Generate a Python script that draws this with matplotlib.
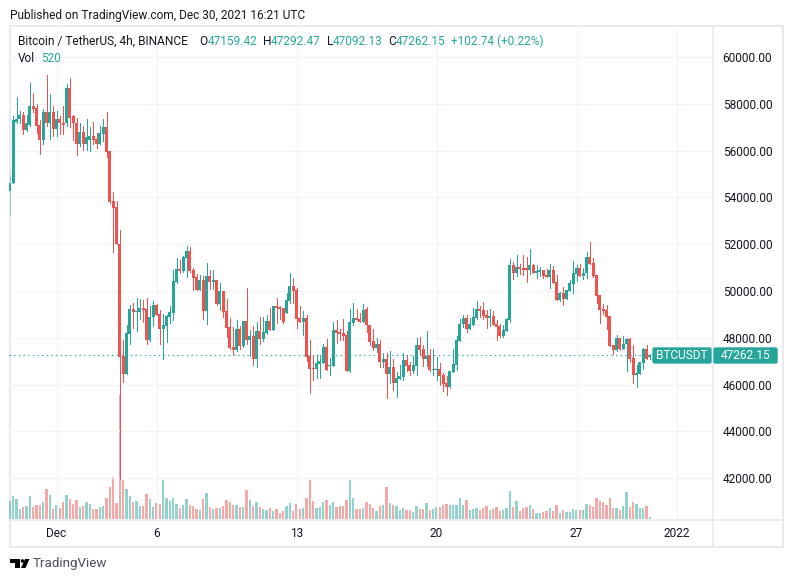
#!/usr/bin/env python3
import matplotlib
matplotlib.use('Agg')
import matplotlib.pyplot as plt
from matplotlib.patches import FancyBboxPatch, Polygon, Circle, Rectangle
import numpy as np

W, H = 793, 582
up_color = '#26A69A'
down_color = '#EF5350'
grid_color = '#F0F3FA'
frame_color = '#E9EAF1'
text_color = '#131722'
fs = 8.6

plt.rcParams['font.family'] = ['Roboto', 'DejaVu Sans']

# 4h candles, bar 0 is Dec 1 00:00, the series starts 14 bars before that
first_bar = -14
opens = [54260,54600,57240,57330,57540,56860,57110,57890,57800,57110,
         56470,57630,57200,57670,56940,57370,57200,57160,58660,57460,
         57200,56260,56810,56300,56470,56640,56510,56300,56730,56990,
         56000,53860,53600,52000,47230,46460,48170,49230,49100,49100,
         49270,49230,47900,48890,49400,49010,48370,48500,48890,49060,
         50390,50940,50860,51430,51710,50900,50600,50040,50470,49140,
         50640,50390,50470,49440,50000,49140,48460,47600,47470,48370,
         47640,48710,47900,48070,47090,48290,47940,48200,48710,48330,
         49360,49310,49270,49060,49570,50210,50040,48840,48670,48840,
         47230,46700,46660,46870,46910,47600,46790,46790,48330,48260,
         48200,48110,46570,48630,48840,48800,48670,49230,48540,47860,
         47560,47730,46960,47090,46440,46740,46060,46230,46310,47040,
         46830,46570,46790,47690,47510,47090,47260,46610,46610,46660,
         46400,46060,45890,46530,46830,47860,48590,48840,48370,48540,
         48840,49230,49190,48970,48840,48930,48590,48500,48070,48290,
         48760,51110,50770,51030,50990,50990,50900,51110,50770,50810,
         50900,50690,50600,50900,50390,49610,49910,49660,50000,50300,
         50730,50990,50640,50770,51460,51200,50690,49830,49230,49190,
         48930,47690,47470,47990,47510,47730,47940,47130,46400,46440,
         46910,47510,47159.42]
closes = [54610,57290,57370,57540,56860,57160,57890,57760,57070,56470,
          57630,57200,57670,56940,57370,57160,57110,58660,57410,57160,
          56260,56810,56260,56560,56640,56470,56300,56770,56990,55960,
          53810,53560,51990,47190,46460,48190,49230,49100,49140,49270,
          49190,47900,48890,49400,48970,48370,48540,48930,49100,50430,
          50940,50860,51460,51710,50860,50560,50040,50470,49140,50640,
          50390,50470,49440,50000,49100,48410,47560,47470,48370,47640,
          48710,47900,48070,47090,48290,47940,48240,48710,48330,49360,
          49270,49230,48670,49610,50210,50000,48800,48670,48840,47170,
          46660,46660,46910,47000,47600,46610,46830,48330,48200,48160,
          48070,46570,48670,48840,48760,48670,49190,48540,47810,47560,
          47730,46960,47090,46440,46740,46060,46270,46360,47040,46790,
          46570,46830,47690,47470,47090,47210,46610,46660,46660,46360,
          46010,45890,46570,46870,47900,48590,48840,48370,48590,48890,
          49230,49140,48930,48840,48930,48540,48460,48070,48330,48810,
          51110,50770,51030,50940,50900,50900,51110,50770,50860,50900,
          50640,50600,50900,50340,49610,49910,49660,50040,50340,50770,
          50990,50640,50770,51460,51160,50640,49790,49190,49140,48890,
          47640,47470,47990,47510,47730,47940,47090,46400,46490,46960,
          47510,47090,47262.15]
highs = [54950,57470,58290,57710,57670,57540,58910,58440,57970,57290,
         57760,59210,58400,57890,57710,57460,57890,58830,59090,57540,
         57410,57200,57070,57370,56990,57240,56770,57070,57370,57630,
         56000,54240,53860,52610,47900,48540,49400,49490,49700,49660,
         49610,49700,49360,49570,49440,49190,49010,48970,49360,50900,
         51410,51330,51500,51930,51890,50990,50730,50690,50640,51200,
         50900,50900,50470,50340,50000,49660,48840,48460,48760,48500,
         48710,50130,48330,48500,48670,48890,48890,48970,49270,49360,
         49700,49360,49270,49910,50770,50560,50130,49360,49140,48970,
         47900,47260,47260,47260,47730,47940,47130,48670,48760,48370,
         48800,48290,49230,49490,49230,49060,49440,49310,48540,48370,
         47990,47900,47340,47340,47430,47090,46530,46830,47340,47260,
         46960,47210,47990,48030,47690,48290,47510,47510,47170,46910,
         46490,46360,46570,47510,48070,48800,48970,48970,48840,49270,
         49570,49360,49530,49190,49230,49140,48760,48590,48540,48860,
         51370,51240,51540,51160,51540,51460,51800,51160,51110,51030,
         50900,50940,51160,51070,50690,49960,50170,50040,50470,51290,
         51110,51160,50990,51670,52100,51410,50690,49830,49440,49400,
         48930,47690,48110,47990,48070,47990,47990,47690,46830,46960,
         47560,47690,47292.47]
lows = [53240,54600,57190,57190,56690,56830,57030,57670,56770,55870,
        56260,57030,56510,56640,56640,56730,56730,57030,56990,56470,
        55790,56210,56040,56040,56000,56300,56090,56260,56430,55740,
        53770,51670,51990,41960,46110,46460,47730,48410,48290,48800,
        48670,47730,47860,48500,48970,47730,47090,47810,48630,48760,
        50340,50770,50810,50600,50810,50040,50040,50040,48800,48590,
        50090,50090,49400,49190,48890,48030,47510,47300,47430,47510,
        47600,47730,47210,46830,46740,47730,47860,48160,48330,48330,
        48630,48800,48630,49060,49490,49490,48410,48670,48110,47000,
        45630,46190,46270,46270,46910,46610,46400,46790,47770,47900,
        47900,46570,46530,48540,48760,48670,48670,48240,47690,47470,
        47390,46740,46740,45410,46060,45760,45460,46230,46190,46570,
        46400,46490,46400,47260,46790,46790,46570,46400,46190,45970,
        45710,45540,45840,46530,46610,47860,48440,48240,48370,48540,
        48800,48890,48800,48410,48500,48540,47900,48030,48030,48290,
        48670,50510,50640,50730,50690,50390,50730,50770,50560,50640,
        50560,50600,50130,50340,49610,49570,49400,49660,50000,49910,
        50430,50640,50510,50560,51160,50600,49490,48630,49010,48370,
        47640,47300,47430,47470,47510,46570,46960,46060,45890,46440,
        46660,47090,47092.13]
volumes = [4870,6090,5310,2700,3220,3480,6090,3220,3740,3740,
           4520,7920,6350,2700,3740,2960,4520,6350,5310,4000,
           5050,3220,3480,4520,4000,2700,2700,3220,3480,5570,
           8440,11050,4260,32190,10270,7920,6090,4520,4790,3480,
           3480,6610,5310,3220,4260,4000,10270,5570,4790,5570,
           4000,2960,3740,5310,3740,3480,2700,2440,5310,6870,
           3220,2700,2960,2960,3480,5050,4520,3740,3740,3220,
           3220,7660,5050,3480,4520,3220,2700,2440,2960,2180,
           2700,1650,2180,3480,4260,2180,4000,2700,2960,5570,
           10270,4790,2960,3220,4520,5050,3740,4520,3220,3480,
           3480,5050,10270,5570,2700,2700,2960,4520,4000,2960,
           2180,3480,3740,8440,4260,3740,3480,2440,2960,2440,
           2440,1910,3480,2700,2700,4260,2440,2700,3220,3220,
           3740,4000,3740,3740,3740,5570,3740,5050,2440,2700,
           2960,2440,2960,3480,2440,2700,3220,2180,2440,2960,
           7400,3220,4790,2180,2960,3220,3740,2700,1650,1650,
           1910,2180,2960,2180,3740,1650,2440,1910,1910,2700,
           2440,2440,2440,4000,3740,3220,5570,4790,4520,3740,
           5570,2960,2960,2440,3480,7130,3220,4520,4000,2960,
           2960,3480,520]

price_ticks = [42000, 44000, 46000, 48000, 50000, 52000, 54000, 56000, 58000, 60000]
date_ticks = [0, 30, 72, 114, 156, 186]
date_labels = ['Dec', '6', '13', '20', '27', '2022']
last_price = 47262.15

fig = plt.figure(figsize=(W / 100, H / 100), dpi=100, facecolor='white')
pane = [9.3 / W, 1 - 520 / H, (713 - 9.3) / W, (520 - 26) / H]
x_range = (-14.16, 196.95)

bars = np.arange(first_bar, first_bar + len(closes))
o, h, l, c = map(np.array, (opens, highs, lows, closes))
is_up = c >= o
colors = np.where(is_up, up_color, down_color)
# first bar is cut in half by the pane edge, its wick comes out pale
wick_colors = list(colors)
wick_colors[0] = '#7FD1CA'

# frame goes behind everything
bg = fig.add_axes([0, 0, 1, 1], zorder=0)
bg.set_xlim(0, W)
bg.set_ylim(H, 0)
bg.axis('off')
bg.add_patch(Rectangle((10, 26), 773, 521, fill=False, edgecolor=frame_color, linewidth=1.4))
bg.plot([713, 713], [26, 547], color=frame_color, linewidth=1.2)
bg.plot([10, 783], [520, 520], color=frame_color, linewidth=1.2)

# volume sits in its own scale underneath the candles
ax_vol = fig.add_axes(pane, zorder=1)
ax_vol.bar(bars, volumes, width=0.62, color=colors, alpha=0.5, linewidth=0)
ax_vol.set_xlim(*x_range)
ax_vol.set_ylim(-180, 128250)
ax_vol.axis('off')

ax = fig.add_axes(pane, zorder=2)
ax.patch.set_alpha(0)
ax.vlines(bars, l, h, colors=wick_colors, linewidth=0.72, zorder=3, antialiased=False)
ax.bar(bars, np.maximum(np.abs(c - o), 40), bottom=np.minimum(o, c), width=0.88,
       color=colors, linewidth=0, zorder=4)
ax.axhline(last_price, color=up_color, linewidth=0.8, linestyle=(0, (1.2, 3)), zorder=2)

ax.set_xlim(*x_range)
ax.set_ylim(40210, 61325)
ax.set_yticks(price_ticks)
ax.set_yticklabels(['%.2f' % p for p in price_ticks], fontsize=fs, color=text_color)
ax.yaxis.tick_right()
ax.set_xticks(date_ticks)
ax.set_xticklabels(date_labels, fontsize=fs, color=text_color)
ax.tick_params(axis='both', length=0)
ax.tick_params(axis='y', pad=7)
ax.tick_params(axis='x', pad=5)
ax.grid(True, color=grid_color, linewidth=0.75, zorder=0)
ax.set_axisbelow(True)
for spine in ax.spines.values():
    spine.set_visible(False)

# overlay in pixel coords for header, tags and logo
ov = fig.add_axes([0, 0, 1, 1], zorder=3)
ov.set_xlim(0, W)
ov.set_ylim(H, 0)
ov.axis('off')

ov.text(10, 15, 'Published on TradingView.com, Dec 30, 2021 16:21 UTC', fontsize=fs,
        color=text_color, va='center')

ov.text(18, 41.5, 'Bitcoin / TetherUS, 4h, BINANCE', fontsize=fs, color=text_color, va='center')
for label, value, x_label, x_value in [('O', '47159.42', 199, 208), ('H', '47292.47', 263, 271),
                                       ('L', '47092.13', 327, 333), ('C', '47262.15', 388, 396)]:
    ov.text(x_label, 41.5, label, fontsize=fs, color=text_color, va='center')
    ov.text(x_value, 41.5, value, fontsize=fs, color=up_color, va='center')
ov.text(451, 41.5, '+102.74 (+0.22%)', fontsize=fs, color=up_color, va='center')
ov.text(18, 59, 'Vol', fontsize=fs, color=text_color, va='center')
ov.text(41, 59, '520', fontsize=fs, color=up_color, va='center')

# last price tags
ov.add_patch(FancyBboxPatch((653, 348), 58, 15, boxstyle='round,pad=0,rounding_size=1.5',
                            facecolor=up_color, edgecolor=up_color, linewidth=1))
ov.add_patch(FancyBboxPatch((714, 348), 63, 15, boxstyle='round,pad=0,rounding_size=1.5',
                            facecolor=up_color, edgecolor=up_color, linewidth=1))
ov.text(682, 355.5, 'BTCUSDT', fontsize=fs, color='white', ha='center', va='center')
ov.text(745.5, 355.5, '47262.15', fontsize=fs, color='white', ha='center', va='center')

# logo
ov.add_patch(Polygon([(10, 559), (20, 559), (20, 568), (15, 568), (15, 562.5), (10, 562.5)],
                     facecolor='black', edgecolor='none'))
ov.add_patch(Circle((22.5, 561), 1.8, facecolor='black', edgecolor='none'))
ov.add_patch(Polygon([(25, 559), (29.5, 559), (25.5, 568), (21, 568)], facecolor='black', edgecolor='none'))
ov.text(33, 564, 'TradingView', fontsize=9.6, color='#4A4E5C', va='center')

fig.savefig('out.png', dpi=100)
plt.close(fig)
